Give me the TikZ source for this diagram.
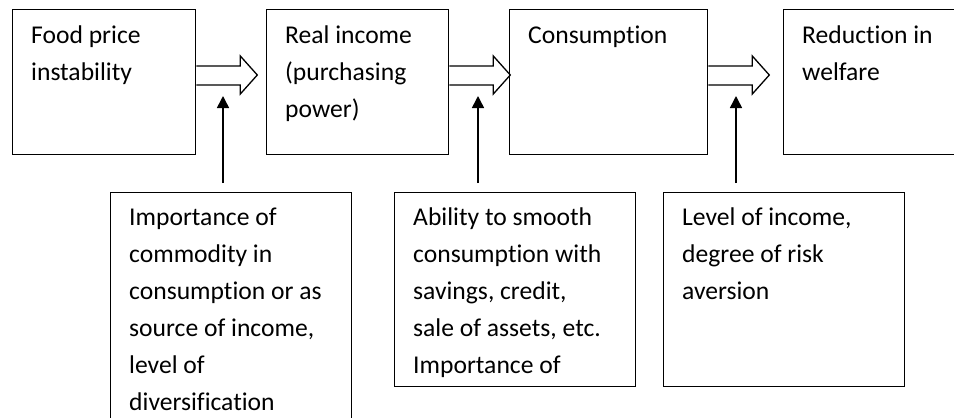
\documentclass[tikz,border=0pt]{standalone}
\usepackage{fontspec}
\setmainfont[Ligatures=NoCommon]{Carlito}
\usetikzlibrary{calc,arrows.meta}
\newcommand{\topstrut}{\rule{0pt}{20pt}}
\tikzset{
  box/.style={draw, line width=1.3pt, rectangle, inner sep=0pt, anchor=north west},
  txt/.style={anchor=north west, inner sep=0pt, align=left, font=\fontsize{25.6}{37}\selectfont},
  hollow/.style={draw, line width=1.3pt, line join=miter},
  up/.style={line width=1.5pt, -{Triangle[length=12pt,width=12pt]}}
}
\begin{document}
\begin{tikzpicture}[x=1pt,y=-1pt]
\useasboundingbox (0,0) rectangle (954,418);
\clip (0,0) rectangle (954,418);
% top boxes
\node[box, minimum width=183pt, minimum height=145pt] (b1) at (12,9) {};
\node[box, minimum width=182pt, minimum height=145pt] (b2) at (266,9) {};
\node[box, minimum width=198pt, minimum height=145pt] (b3) at (509,9) {};
\node[box, minimum width=220pt, minimum height=145pt] (b4) at (783,9) {};
% bottom boxes
\node[box, minimum width=241pt, minimum height=250pt] (c1) at (110,192) {};
\node[box, minimum width=241pt, minimum height=194pt] (c2) at (394,192) {};
\node[box, minimum width=241pt, minimum height=194pt] (c3) at (663,192) {};
% texts (first baseline 34pt below box top)
\node[txt] (t1) at ($(b1.north west)+(19,14)$) {\topstrut Food price\\instability};
\node[txt] (t2) at ($(b2.north west)+(19,14)$) {\topstrut Real income\\(purchasing\\power)};
\node[txt] (t3) at ($(b3.north west)+(19,14)$) {\topstrut Consumption};
\node[txt] (t4) at ($(b4.north west)+(19,14)$) {\topstrut Reduction in\\welfare};
\node[txt] (u1) at ($(c1.north west)+(19,13)$) {\topstrut Importance of\\commodity in\\consumption or as\\source of income,\\level of\\diversification};
\node[txt] (u2) at ($(c2.north west)+(19,13)$) {\topstrut Ability to smooth\\consumption with\\savings, credit,\\sale of assets, etc.\\Importance of};
\node[txt] (u3) at ($(c3.north west)+(19,13)$) {\topstrut Level of income,\\degree of risk\\aversion};
% hollow arrows
\foreach \a in {1,2,3}{
  \draw[hollow] ($(b\a.north east)+(0,57)$) -- ++(44,0) -- ++(0,-10) -- ++(17,19) -- ++(-17,19) -- ++(0,-9) -- ++(-44,0);
}
% vertical arrows
\coordinate (s1) at ($(c1.north west)+(113,-9)$);
\coordinate (s2) at ($(c2.north west)+(84,-9)$);
\coordinate (s3) at ($(c3.north west)+(73,-9)$);
\draw[up] (s1) -- ++(0,-87);
\draw[up] (s2) -- ++(0,-87);
\draw[up] (s3) -- ++(0,-87);
\end{tikzpicture}
\end{document}
